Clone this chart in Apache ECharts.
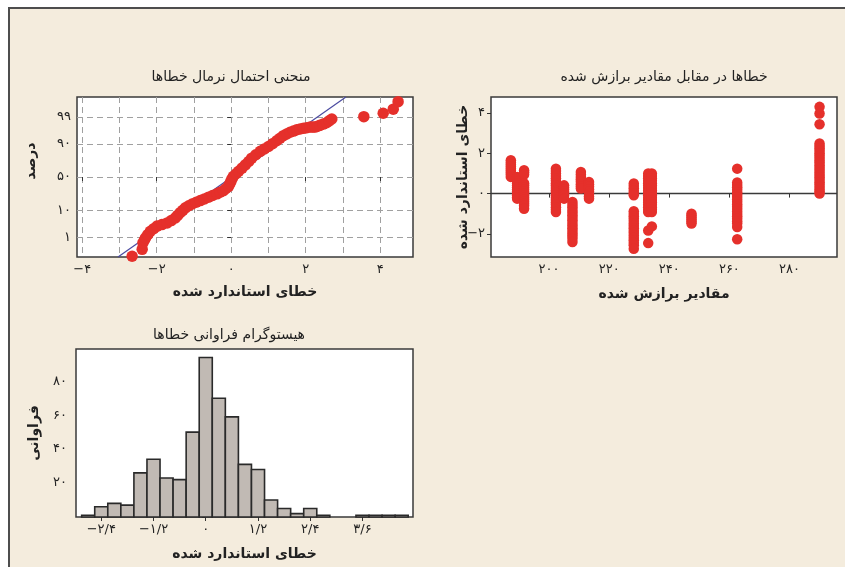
<!DOCTYPE html>
<html><head><meta charset="utf-8">
<script src="https://cdn.jsdelivr.net/npm/echarts@6/dist/echarts.min.js"></script>
<style>
html,body{margin:0;padding:0;background:#fff;overflow:hidden;width:845px;height:567px;}
#bg{position:absolute;left:8px;top:7px;width:837px;height:560px;box-sizing:border-box;background:#f4ecdd;border-left:2px solid #4d4d4d;border-top:2px solid #4d4d4d;}
#chart{position:absolute;left:0;top:0;width:845px;height:567px;}
</style></head><body><div id="bg"></div><div id="chart"></div>
<script>
// ---------- data ----------
// Normal probability plot (standardized residual, cumulative percent)
const probResid = [-2.66,-2.39,-2.37,-2.33,-2.30,-2.24,-2.17,-2.08,-1.99,-1.86,-1.72,-1.61,-1.50,-1.44,-1.37,-1.30,-1.23,-1.14,-1.05,-0.94,-0.83,-0.72,-0.61,-0.50,-0.38,-0.30,-0.21,-0.14,-0.07,-0.04,-0.01,0.02,0.06,0.13,0.20,0.29,0.38,0.47,0.55,0.66,0.78,0.89,1.00,1.11,1.22,1.31,1.40,1.49,1.58,1.67,1.76,1.85,1.94,2.03,2.12,2.19,2.25,2.32,2.38,2.47,2.56,2.63,2.70,3.56,4.08,4.35,4.48];
const probPercent = [0.11,0.26,0.55,0.75,0.94,1.3,1.8,2.3,2.9,3.3,3.8,4.6,5.7,6.9,8.4,9.9,11.7,13.3,14.9,16.5,18.1,19.9,21.8,23.8,25.8,27.8,29.8,32.8,35.9,39.5,43.2,47.2,51.2,55.0,58.7,63.5,68.1,72.5,76.7,80.5,83.9,86.1,88.1,90.1,91.9,93.3,94.5,95.2,95.8,96.2,96.6,96.8,97.0,97.15,97.3,97.3,97.3,97.5,97.7,97.95,98.2,98.5,98.75,99.01,99.31,99.56,99.82];
const fitLineMean = 0.02, fitLineSd = 0.99;

// Residuals versus fits: one fitted value per column, residuals of that column
const fitValues = [187.3, 189.4, 191.7, 202.3, 205.0, 207.8, 210.6, 213.3, 228.2, 233.0, 234.2, 247.4, 262.6, 290.0];
const residualColumns = [
  [1.66,1.55,1.45,1.35,1.25,1.15,1.05,0.95,0.83],
  [0.83,0.72,0.62,0.52,0.42,0.32,0.22,0.12,0.02,-0.08,-0.18,-0.25],
  [1.16,1.06,0.95,0.52,0.41,0.3,0.2,0.1,0.0,-0.1,-0.2,-0.3,-0.4,-0.5,-0.6,-0.75],
  [1.24,1.12,1.0,0.88,0.76,0.64,0.52,0.4,0.28,0.16,0.04,-0.08,-0.2,-0.32,-0.44,-0.56,-0.68,-0.8,-0.92],
  [0.41,0.3,0.2,0.1,0.0,-0.1,-0.25],
  [-0.42,-0.55,-0.68,-0.81,-0.94,-1.07,-1.2,-1.33,-1.46,-1.59,-1.72,-1.85,-1.98,-2.11,-2.24,-2.41],
  [1.07,0.95,0.83,0.71,0.59,0.47,0.35,0.25],
  [0.58,0.46,0.34,0.22,0.1,-0.02,-0.14,-0.25],
  [0.5,0.38,0.26,0.14,0.02,-0.08,-0.88,-1.0,-1.12,-1.24,-1.36,-1.48,-1.6,-1.72,-1.84,-1.96,-2.08,-2.2,-2.32,-2.44,-2.56,-2.74],
  [1.0,0.88,0.76,0.64,0.52,0.4,0.28,0.16,0.04,-0.08,-0.2,-0.32,-0.44,-0.56,-0.68,-0.8,-0.92,-1.83,-2.46],
  [1.0,0.88,0.76,0.64,0.52,0.4,0.28,0.16,0.04,-0.08,-0.2,-0.32,-0.44,-0.56,-0.68,-0.8,-0.92,-1.63],
  [-1.0,-1.1,-1.2,-1.3,-1.4,-1.49],
  [1.24,0.55,0.43,0.31,0.19,0.07,-0.05,-0.17,-0.29,-0.41,-0.53,-0.65,-0.77,-0.89,-1.01,-1.13,-1.25,-1.37,-1.49,-1.66,-2.27],
  [4.31,3.98,3.45,2.49,2.37,2.25,2.13,2.01,1.89,1.77,1.65,1.53,1.41,1.29,1.17,1.05,0.93,0.81,0.69,0.57,0.45,0.33,0.21,0.09,0.0]
];

// Histogram: bin centres and counts
const binWidth = 0.3;
const binCenters = [-2.7,-2.4,-2.1,-1.8,-1.5,-1.2,-0.9,-0.6,-0.3,0,0.3,0.6,0.9,1.2,1.5,1.8,2.1,2.4,2.7,3.0,3.3,3.6,3.9,4.2,4.5];
const binCounts  = [1,6,8,7,26,34,23,22,50,94,70,59,31,28,10,5,2,5,1,0,0,1,1,1,1];

// Tick values and labels
const probXTicks = [-4,-2,0,2,4];
const probXLabels = ['−۴','−۲','۰','۲','۴'];
const probXGrid = [-4,-3,-2,-1,0,1,2,3,4];
const probYPct = [1,10,50,90,99];
const probYLabels = ['۱','۱۰','۵۰','۹۰','۹۹'];
const fitTicks = [200,220,240,260,280];
const fitLabels = ['۲۰۰','۲۲۰','۲۴۰','۲۶۰','۲۸۰'];
const resTicks = [-2,0,2,4];
const resLabels = ['−۲','۰','۲','۴'];
const histXTicks = [-2.4,-1.2,0,1.2,2.4,3.6];
const histXLabels = ['−۲/۴','−۱/۲','۰','۱/۲','۲/۴','۳/۶'];
const histYTicks = [20,40,60,80];
const histYLabels = ['۲۰','۴۰','۶۰','۸۰'];

const titles = ['منحنی احتمال نرمال خطاها','خطاها در مقابل مقادیر برازش شده','هیستوگرام فراوانی خطاها'];
const xNames = ['خطای استاندارد شده','مقادیر برازش شده','خطای استاندارد شده'];
const yNames = ['درصد','خطای استاندارد شده','فراوانی'];

// ---------- helpers ----------
function probit(p){
  const a=[-3.969683028665376e+01,2.209460984245205e+02,-2.759285104469687e+02,1.383577518672690e+02,-3.066479806614716e+01,2.506628277459239e+00];
  const b=[-5.447609879822406e+01,1.615858368580409e+02,-1.556989798598866e+02,6.680131188771972e+01,-1.328068155288572e+01];
  const c=[-7.784894002430293e-03,-3.223964580411365e-01,-2.400758277161838e+00,-2.549732539343734e+00,4.374664141464968e+00,2.938163982698783e+00];
  const d=[7.784695709041462e-03,3.224671290700398e-01,2.445134137142996e+00,3.754408661907416e+00];
  const pl=0.02425, ph=1-pl; let q,r;
  if(p<pl){q=Math.sqrt(-2*Math.log(p));return (((((c[0]*q+c[1])*q+c[2])*q+c[3])*q+c[4])*q+c[5])/((((d[0]*q+d[1])*q+d[2])*q+d[3])*q+1);}
  if(p<=ph){q=p-0.5;r=q*q;return (((((a[0]*r+a[1])*r+a[2])*r+a[3])*r+a[4])*r+a[5])*q/(((((b[0]*r+b[1])*r+b[2])*r+b[3])*r+b[4])*r+1);}
  q=Math.sqrt(-2*Math.log(1-p));return -(((((c[0]*q+c[1])*q+c[2])*q+c[3])*q+c[4])*q+c[5])/((((d[0]*q+d[1])*q+d[2])*q+d[3])*q+1);
}
function labeler(vals, labels){
  return v => { let bi=-1, bd=1e9; vals.forEach((t,i)=>{const dd=Math.abs(t-v); if(dd<bd){bd=dd;bi=i;}}); return bd<1e-6?labels[bi]:''; };
}
const FONT = 'DejaVu Sans';
const TXT = '#222';
const RED = '#e5302b';
const nameStyle = {fontSize:14, fontWeight:'bold', fontFamily:FONT, color:TXT};
function axis(gridIndex, min, max, ticks, labels, extra){
  return Object.assign({
    type:'value', gridIndex, min, max, nameMoveOverlap:false,
    axisLine:{show:false},
    axisTick:{show:true, length:4, customValues:ticks, lineStyle:{color:'#333', width:1}},
    axisLabel:{customValues:ticks, formatter:labeler(ticks,labels), color:TXT, fontSize:13, fontFamily:FONT, margin:6},
    splitLine:{show:false}
  }, extra||{});
}

const zMin = probit(0.001), zMax = probit(0.999);
const probYTicks = probYPct.map(p=>probit(p/100));
const probData = probResid.map((x,i)=>[x, probit(probPercent[i]/100)]);
const fitLine = [[fitLineMean + zMin*fitLineSd, zMin],[fitLineMean + zMax*fitLineSd, zMax]];
const resData = [];
fitValues.forEach((f,i)=>residualColumns[i].forEach(r=>resData.push([f,r])));
const histData = binCenters.map((c,i)=>[c, binCounts[i]]).filter(d=>d[1]>0);
const resXMin = 180.7, resXMax = 295.8;

const gridStyle = {show:true, backgroundColor:'#ffffff', borderColor:'#3a3a3a', borderWidth:1.5};
const titleFont = '14px "DejaVu Sans"';
const chart = echarts.init(document.getElementById('chart'), null, {renderer:'canvas'});
chart.setOption({
  animation:false,
  backgroundColor:'transparent',
  graphic:[
    {type:'text', x:231, y:77, style:{text:titles[0], font:titleFont, fill:TXT, textAlign:'center', textVerticalAlign:'middle'}},
    {type:'text', x:664, y:77, style:{text:titles[1], font:titleFont, fill:TXT, textAlign:'center', textVerticalAlign:'middle'}},
    {type:'text', x:229, y:335, style:{text:titles[2], font:titleFont, fill:TXT, textAlign:'center', textVerticalAlign:'middle'}},
    {type:'text', x:31, y:161, rotation:Math.PI/2, style:{text:yNames[0], font:'bold 14px "DejaVu Sans"', fill:TXT, textAlign:'center', textVerticalAlign:'middle'}}
  ],
  grid:[
    Object.assign({left:77, top:97, width:336, height:160}, gridStyle),
    Object.assign({left:491, top:97, width:346, height:160}, gridStyle),
    Object.assign({left:76, top:349, width:337, height:168}, gridStyle)
  ],
  xAxis:[
    axis(0, -4.14, 4.88, probXTicks, probXLabels, {name:xNames[0], nameLocation:'middle', nameGap:28, nameTextStyle:nameStyle}),
    axis(0, -4.14, 4.88, probXGrid, probXGrid.map(String), {position:'top', axisTick:{show:false, customValues:probXGrid}, axisLabel:{show:false}, splitLine:{show:true, lineStyle:{color:'#a0a0a0', width:1, type:[6,4]}}}),
    axis(1, resXMin, resXMax, fitTicks, fitLabels, {name:xNames[1], nameLocation:'middle', nameGap:30, nameTextStyle:nameStyle}),
    axis(2, -2.98, 4.76, histXTicks, histXLabels, {name:xNames[2], nameLocation:'middle', nameGap:30, nameTextStyle:nameStyle})
  ],
  yAxis:[
    axis(0, zMin, zMax, probYTicks, probYLabels, {splitLine:{show:true, lineStyle:{color:'#a0a0a0', width:1, type:[6,4]}}}),
    axis(1, -3.15, 4.8, resTicks, resLabels, {name:yNames[1], nameLocation:'middle', nameGap:21, nameTextStyle:nameStyle}),
    axis(2, 0, 99, [0].concat(histYTicks), [''].concat(histYLabels), {name:yNames[2], nameLocation:'middle', nameGap:35, nameTextStyle:nameStyle, axisLabel:{customValues:histYTicks, formatter:labeler(histYTicks,histYLabels), color:TXT, fontSize:13, fontFamily:FONT, margin:9}})
  ],
  series:[
    {type:'line', xAxisIndex:0, yAxisIndex:0, data:fitLine, symbol:'none', lineStyle:{color:'#4b4ba0', width:1.2}, z:1, silent:true},
    {type:'scatter', xAxisIndex:0, yAxisIndex:0, data:probData, symbol:'circle', symbolSize:11.5, itemStyle:{color:RED, opacity:1}, z:2},
    {type:'line', xAxisIndex:2, yAxisIndex:1, data:[[resXMin,0],[resXMax,0]], symbol:'none', lineStyle:{color:'#3a3a3a', width:1.5}, z:1, silent:true},
    {type:'scatter', xAxisIndex:2, yAxisIndex:1, data:resData, symbol:'circle', symbolSize:10.5, itemStyle:{color:RED, opacity:1}, z:2},
    {type:'custom', xAxisIndex:3, yAxisIndex:2, data:histData,
     renderItem:function(params, api){
       const c = api.value(0), h = api.value(1);
       const p0 = api.coord([c - binWidth/2, h]);
       const p1 = api.coord([c + binWidth/2, 0]);
       return {type:'rect', shape:{x:p0[0], y:p0[1], width:p1[0]-p0[0], height:p1[1]-p0[1]},
               style:{fill:'#c1bab4', stroke:'#2a2a2a', lineWidth:1.6}};
     }, z:2}
  ]
});
</script></body></html>
